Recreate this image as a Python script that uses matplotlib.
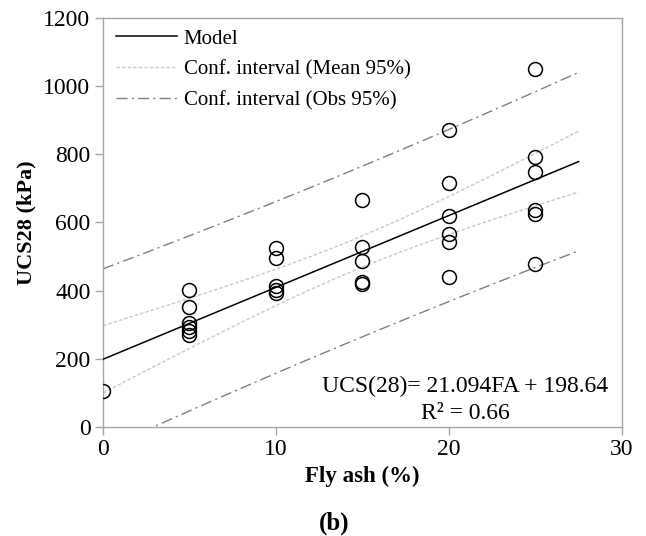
import numpy as np
import matplotlib
matplotlib.use("Agg")
import matplotlib.pyplot as plt
from matplotlib.lines import Line2D

plt.rcParams['font.family'] = ['Liberation Serif', 'DejaVu Serif']

# Fly ash content (%) and 28-day UCS (kPa)
fly_ash = [0,
           5, 5, 5, 5, 5, 5,
           10, 10, 10, 10, 10,
           15, 15, 15, 15, 15,
           20, 20, 20, 20, 20, 20,
           25, 25, 25, 25, 25, 25]
ucs28 = [106,
         402, 352, 305, 292, 283, 270,
         526, 495, 414, 402, 392,
         666, 529, 487, 426, 419,
         872, 716, 620, 566, 544, 441,
         1051, 791, 749, 637, 624, 477]

slope = 21.094
intercept = 198.64
r_squared = 0.66
x_end = 27.5

x_ticks = [0, 10, 20, 30]
y_ticks = [0, 200, 400, 600, 800, 1000, 1200]

x = np.asarray(fly_ash, dtype=float)
y = np.asarray(ucs28, dtype=float)
n = len(x)

# Regression model and 95% bands
xs = np.linspace(0, x_end, 200)
fit = intercept + slope * xs
resid = y - (intercept + slope * x)
s = np.sqrt(np.sum(resid ** 2) / (n - 2))
xm = x.mean()
sxx = np.sum((x - xm) ** 2)
t_crit = 2.0518  # t(0.975, n-2)
se_mean = s * np.sqrt(1.0 / n + (xs - xm) ** 2 / sxx)
se_obs = s * np.sqrt(1.0 + 1.0 / n + (xs - xm) ** 2 / sxx)

fig = plt.figure(figsize=(6.46, 5.36), dpi=100)
ax = fig.add_axes([0.1594, 0.2034, 0.8034, 0.7631])

grey_spine = '#a6a6a6'
mean_col = '#c8c8c8'
obs_col = '#7f7f7f'
mean_ls = (0, (2.5, 1.5))
obs_ls = (0, (8, 3, 1.5, 3))

ax.plot(xs, fit, color='black', lw=1.1, zorder=3)
ax.plot(xs, fit + t_crit * se_mean, color=mean_col, lw=1.0, ls=mean_ls, zorder=2)
ax.plot(xs, fit - t_crit * se_mean, color=mean_col, lw=1.0, ls=mean_ls, zorder=2)
ax.plot(xs, fit + t_crit * se_obs, color=obs_col, lw=1.0, ls=obs_ls, zorder=2)
ax.plot(xs, fit - t_crit * se_obs, color=obs_col, lw=1.0, ls=obs_ls, zorder=2)

ax.plot(x, y, ls='none', marker='o', ms=10, mfc='none', mec='black', mew=1.1, zorder=4)

ax.set_xlim(0, 30)
ax.set_ylim(0, 1200)
ax.set_xticks(x_ticks)
ax.set_yticks(y_ticks)
for sp in ax.spines.values():
    sp.set_color(grey_spine)
    sp.set_linewidth(1.0)
ax.tick_params(axis='both', colors=grey_spine, labelcolor='black', labelsize=17,
               length=6, width=1.0, direction='out')
ax.tick_params(axis='x', pad=3)
ax.tick_params(axis='y', pad=3)

ax.set_xlabel('Fly ash (%)', fontsize=16.5, fontweight='bold', labelpad=4)
ax.set_ylabel('UCS28 (kPa)', fontsize=16, fontweight='bold', labelpad=5)

handles = [
    Line2D([], [], color='black', lw=1.1),
    Line2D([], [], color=mean_col, lw=1.0, ls=mean_ls),
    Line2D([], [], color=obs_col, lw=1.0, ls=obs_ls),
]
labels = ['Model', 'Conf. interval (Mean 95%)', 'Conf. interval (Obs 95%)']
ax.legend(handles, labels, loc='upper left', frameon=False, fontsize=15,
          handlelength=2.95, handletextpad=0.3, labelspacing=0.55,
          borderpad=0, borderaxespad=0, bbox_to_anchor=(0.025, 0.973))

ax.text(0.698, 0.100, f'UCS(28)= {slope:.3f}FA + {intercept:.2f}',
        transform=ax.transAxes, ha='center', va='center', fontsize=17)
ax.text(0.698, 0.034, f'R² = {r_squared:.2f}',
        transform=ax.transAxes, ha='center', va='center', fontsize=17)

fig.text(0.517, 0.024, '(b)', ha='center', va='center', fontsize=18, fontweight='bold')

fig.savefig('out.png', dpi=100)
